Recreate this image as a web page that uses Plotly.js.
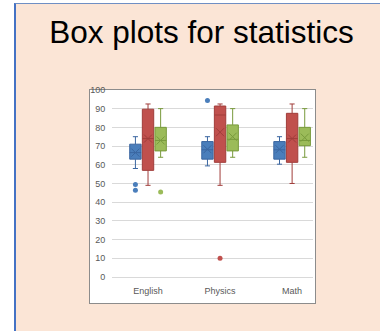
<!DOCTYPE html>
<html><head><meta charset="utf-8">
<script src="https://cdn.plot.ly/plotly-3.0.1.min.js"></script>
<style>
html,body{margin:0;padding:0;background:#fff;width:380px;height:331px;overflow:hidden;}
#bg{position:absolute;left:14px;top:3px;width:366px;height:328px;background:#fbe5d6;border-left:2px solid #4472c4;border-top:1px solid #6f8fc4;box-sizing:border-box;}
#box{position:absolute;left:89px;top:89px;width:227px;height:215px;background:#fff;border:1px solid #8c8c8c;box-sizing:border-box;}
#chart{position:absolute;left:0;top:0;width:380px;height:331px;}
</style></head>
<body>
<div id="bg"></div>
<div id="box"></div>
<div id="chart"></div>
<script>
const categories = ["English", "Physics", "Math"];
const yTicks = [0,10,20,30,40,50,60,70,80,90,100];

// Series A (blue)
const aLower = [58, 59.4, 60.3];
const aQ1 = [63, 63, 63];
const aMedian = [66.5, 68, 68];
const aQ3 = [71, 72.4, 72.4];
const aUpper = [75, 75, 75];
const aMean = [66.5, 68.3, 68.3];
const aOutliers = [[49.4, 46.4], [94.3], []];

// Series B (red)
const bLower = [49, 49, 50];
const bQ1 = [57, 61.3, 61.3];
const bMedian = [74, 86.6, 74];
const bQ3 = [89.7, 91.4, 87.5];
const bUpper = [92.5, 92.5, 92.5];
const bMean = [74, 77.4, 74];
const bOutliers = [[], [10], []];

// Series C (green)
const cLower = [64, 64, 64];
const cQ1 = [67.4, 67.4, 70.2];
const cMedian = [73, 73.6, 73];
const cQ3 = [80, 81.3, 80];
const cUpper = [90, 90, 90];
const cMean = [73, 75, 74.5];
const cOutliers = [[45.5], [], []];

const series = [
  {lower:aLower,q1:aQ1,median:aMedian,q3:aQ3,upper:aUpper,mean:aMean,out:aOutliers,
   fill:"#4a7ebb",line:"#3a66a0",off:-0.175},
  {lower:bLower,q1:bQ1,median:bMedian,q3:bQ3,upper:bUpper,mean:bMean,out:bOutliers,
   fill:"#c0504d",line:"#a03d3a",off:0},
  {lower:cLower,q1:cQ1,median:cMedian,q3:cQ3,upper:cUpper,mean:cMean,out:cOutliers,
   fill:"#9bbb59",line:"#789a3c",off:0.175}
];

const traces = [];
series.forEach(s => {
  const xs = categories.map((c,i) => i + s.off);
  traces.push({
    type:"box", x:xs, q1:s.q1, median:s.median, q3:s.q3,
    lowerfence:s.lower, upperfence:s.upper,
    width:0.158, whiskerwidth:0.45,
    fillcolor:s.fill, line:{color:s.line,width:1},
    boxpoints:false, hoverinfo:"skip", showlegend:false
  });
  traces.push({
    type:"scatter", mode:"markers", x:xs, y:s.mean,
    marker:{symbol:"x-thin-open", size:8, line:{color:s.line,width:1}, color:s.line},
    hoverinfo:"skip", showlegend:false
  });
  const ox=[], oy=[];
  s.out.forEach((arr,i)=>arr.forEach(v=>{ox.push(i+s.off); oy.push(v);}));
  traces.push({
    type:"scatter", mode:"markers", x:ox, y:oy,
    marker:{symbol:"circle", size:5, color:s.fill},
    hoverinfo:"skip", showlegend:false
  });
});

const layout = {
  width:380, height:331,
  margin:{l:112, r:67, t:89, b:54, pad:0},
  paper_bgcolor:"rgba(0,0,0,0)", plot_bgcolor:"rgba(0,0,0,0)",
  title:{text:"Box plots for statistics", font:{family:"Liberation Sans, Arial, sans-serif", size:31.5, color:"#000"},
         x:201.5/380, xanchor:"center", xref:"container", yref:"container", y:1-32/331, yanchor:"middle"},
  boxmode:"overlay",
  xaxis:{range:[-0.5,2.29], tickvals:[0,1,2], ticktext:categories, showgrid:false, zeroline:false,
         showline:false, ticks:"outside", ticklen:5, tickcolor:"rgba(0,0,0,0)",
         tickfont:{family:"Liberation Sans, Arial, sans-serif", size:9, color:"#595959"}},
  yaxis:{range:[0,100.5], tickvals:yTicks, showgrid:true, gridcolor:"#d9d9d9", gridwidth:1,
         zeroline:true, zerolinecolor:"#d9d9d9", zerolinewidth:1, showline:false,
         ticks:"outside", ticklen:4, tickcolor:"rgba(0,0,0,0)",
         tickfont:{family:"Liberation Sans, Arial, sans-serif", size:9, color:"#595959"}},
  font:{family:"Liberation Sans, Arial, sans-serif"}
};
Plotly.newPlot("chart", traces, layout, {staticPlot:true, displayModeBar:false});
</script>
</body></html>
